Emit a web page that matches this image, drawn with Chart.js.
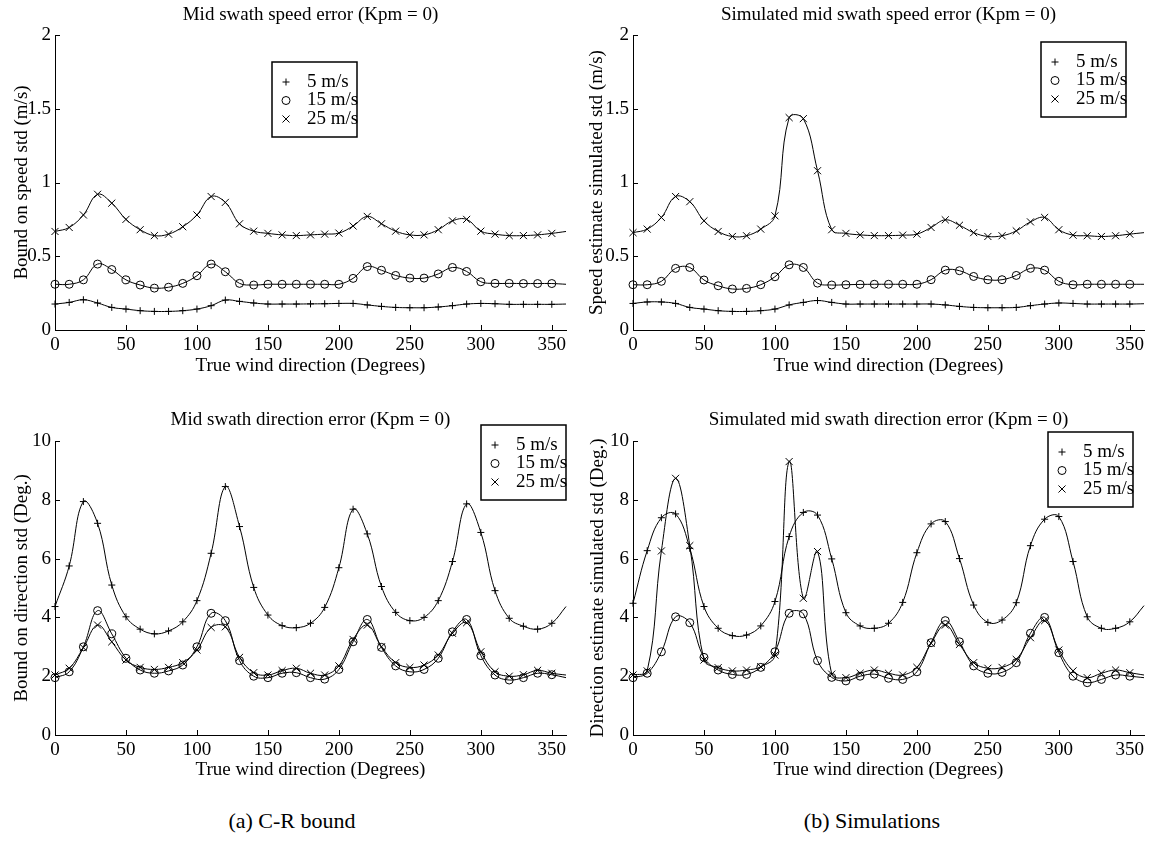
<!DOCTYPE html>
<html>
<head>
<meta charset="utf-8">
<script src="https://cdn.jsdelivr.net/npm/chart.js@4.4.0/dist/chart.umd.min.js"></script>
<style>
    body { margin: 0; background: #fff; width: 1158px; height: 853px; position: relative; overflow: hidden; }
    canvas { position: absolute; }
    .caption { position: absolute; font-family: "Liberation Serif", "Times New Roman", serif; font-size: 22px; transform: translateX(-50%); white-space: nowrap; color: #000; }
</style>
</head>
<body>
<canvas id="speedBound" width="580" height="380" style="left:0;top:0"></canvas>
<canvas id="speedSim" width="578" height="380" style="left:580px;top:0"></canvas>
<canvas id="dirBound" width="580" height="420" style="left:0;top:380px"></canvas>
<canvas id="dirSim" width="578" height="420" style="left:580px;top:380px"></canvas>
<div class="caption" style="left:292px;top:808px">(a) C-R bound</div>
<div class="caption" style="left:872px;top:808px">(b) Simulations</div>

<script>
// wind directions (deg); the last entry is only where the curve ends, no marker
const directions = [0, 10, 20, 30, 40, 50, 60, 70, 80, 90,
    100, 110, 120, 130, 140, 150, 160, 170, 180, 190,
    200, 210, 220, 230, 240, 250, 260, 270, 280, 290,
    300, 310, 320, 330, 340, 350, 360];
const speedLabels = ['5 m/s', '15 m/s', '25 m/s'];

// (a) C-R bound, speed std (m/s)
const boundSpeed5 = [0.176, 0.187, 0.205, 0.183, 0.153, 0.142, 0.131, 0.126, 0.126, 0.131,
    0.142, 0.165, 0.203, 0.194, 0.183, 0.176, 0.176, 0.176, 0.177, 0.178,
    0.18, 0.18, 0.17, 0.16, 0.153, 0.151, 0.151, 0.156, 0.165, 0.176,
    0.18, 0.178, 0.174, 0.174, 0.174, 0.174, 0.176];
const boundSpeed15 = [0.31, 0.31, 0.34, 0.447, 0.41, 0.34, 0.305, 0.284, 0.29, 0.316,
    0.368, 0.447, 0.395, 0.316, 0.305, 0.31, 0.31, 0.31, 0.31, 0.31,
    0.31, 0.35, 0.43, 0.405, 0.37, 0.352, 0.352, 0.38, 0.424, 0.397,
    0.327, 0.316, 0.316, 0.315, 0.315, 0.315, 0.31];
const boundSpeed25 = [0.668, 0.695, 0.78, 0.92, 0.86, 0.75, 0.68, 0.64, 0.65, 0.70,
    0.78, 0.905, 0.865, 0.72, 0.67, 0.655, 0.645, 0.64, 0.645, 0.65,
    0.657, 0.705, 0.77, 0.72, 0.67, 0.645, 0.645, 0.68, 0.74, 0.75,
    0.67, 0.65, 0.64, 0.64, 0.645, 0.655, 0.668];

// (b) simulations, speed std (m/s)
const simSpeed5 = [0.18, 0.19, 0.19, 0.18, 0.153, 0.142, 0.131, 0.126, 0.126, 0.131,
    0.142, 0.17, 0.187, 0.2, 0.187, 0.176, 0.176, 0.176, 0.176, 0.176,
    0.176, 0.176, 0.17, 0.16, 0.153, 0.151, 0.151, 0.153, 0.165, 0.176,
    0.183, 0.18, 0.176, 0.176, 0.176, 0.176, 0.178];
const simSpeed15 = [0.307, 0.307, 0.33, 0.418, 0.424, 0.339, 0.30, 0.278, 0.282, 0.307,
    0.361, 0.442, 0.424, 0.318, 0.305, 0.307, 0.309, 0.31, 0.31, 0.31,
    0.31, 0.341, 0.406, 0.402, 0.363, 0.341, 0.341, 0.37, 0.418, 0.406,
    0.33, 0.307, 0.31, 0.31, 0.31, 0.31, 0.31];
const simSpeed25 = [0.66, 0.684, 0.763, 0.905, 0.87, 0.74, 0.668, 0.634, 0.639, 0.684,
    0.774, 1.44, 1.433, 1.08, 0.68, 0.655, 0.645, 0.64, 0.64, 0.643,
    0.65, 0.695, 0.747, 0.71, 0.66, 0.634, 0.639, 0.672, 0.733, 0.763,
    0.68, 0.643, 0.639, 0.634, 0.639, 0.65, 0.66];

// (a) C-R bound, direction std (deg)
const boundDir5 = [4.37, 5.75, 7.94, 7.2, 5.1, 4.02, 3.6, 3.44, 3.54, 3.85,
    4.57, 6.18, 8.45, 7.09, 5.02, 4.08, 3.72, 3.65, 3.8, 4.34,
    5.69, 7.68, 6.84, 5.05, 4.17, 3.89, 4.0, 4.57, 5.9, 7.86,
    6.89, 4.91, 3.97, 3.7, 3.6, 3.8, 4.37];
const boundDir15 = [1.95, 2.15, 3.0, 4.23, 3.44, 2.61, 2.21, 2.1, 2.18, 2.38,
    3.0, 4.14, 3.89, 2.53, 2.0, 1.95, 2.1, 2.12, 1.95, 1.9,
    2.23, 3.17, 3.93, 2.98, 2.35, 2.15, 2.23, 2.61, 3.51, 3.93,
    2.7, 2.04, 1.87, 1.95, 2.1, 2.05, 1.95];
const boundDir25 = [2.04, 2.27, 2.97, 3.74, 3.17, 2.55, 2.3, 2.23, 2.3, 2.46,
    2.89, 3.66, 3.68, 2.64, 2.12, 2.04, 2.19, 2.27, 2.1, 2.04,
    2.35, 3.25, 3.74, 3.0, 2.46, 2.3, 2.38, 2.72, 3.46, 3.82,
    2.83, 2.15, 2.0, 2.05, 2.2, 2.1, 2.04];

// (b) simulations, direction std (deg)
const simDir5 = [4.48, 6.27, 7.39, 7.52, 6.35, 4.37, 3.63, 3.38, 3.4, 3.71,
    4.54, 6.75, 7.57, 7.48, 5.99, 4.16, 3.71, 3.63, 3.8, 4.51,
    6.2, 7.18, 7.26, 6.0, 4.42, 3.83, 3.91, 4.5, 6.44, 7.34,
    7.43, 5.9, 4.02, 3.63, 3.63, 3.85, 4.4];
const simDir15 = [1.95, 2.1, 2.83, 4.02, 3.82, 2.64, 2.21, 2.06, 2.06, 2.3,
    2.83, 4.14, 4.12, 2.53, 1.96, 1.84, 2.0, 2.07, 1.93, 1.89,
    2.15, 3.14, 3.89, 3.17, 2.35, 2.1, 2.13, 2.46, 3.46, 4.0,
    2.8, 2.0, 1.78, 1.89, 2.04, 2.0, 1.95];
const simDir25 = [2.04, 2.18, 6.26, 8.73, 6.44, 2.55, 2.29, 2.18, 2.21, 2.32,
    2.72, 9.3, 4.65, 6.24, 2.07, 1.95, 2.1, 2.21, 2.1, 2.04,
    2.3, 3.12, 3.74, 3.08, 2.46, 2.27, 2.3, 2.57, 3.31, 3.89,
    2.89, 2.18, 1.95, 2.1, 2.21, 2.12, 2.04];

const FONT = 'Liberation Serif';
Chart.defaults.font.family = FONT;
Chart.defaults.font.size = 19;
Chart.defaults.color = '#000';

// + , o , x like the original plot markers
const markers = [
    { pointStyle: 'cross', radius: 3.5 },
    { pointStyle: 'circle', radius: 4 },
    { pointStyle: 'crossRot', radius: 5 }
];

// short inward tick marks on the left and bottom axes
const inwardTicks = {
    id: 'inwardTicks',
    afterDraw(chart) {
        const ctx = chart.ctx;
        const { x, y } = chart.scales;
        ctx.save();
        ctx.strokeStyle = '#000';
        ctx.lineWidth = 1;
        ctx.beginPath();
        x.ticks.forEach(t => {
            const px = Math.round(x.getPixelForValue(t.value)) + 0.5;
            ctx.moveTo(px, y.bottom);
            ctx.lineTo(px, y.bottom - 5);
        });
        y.ticks.forEach(t => {
            const py = Math.round(y.getPixelForValue(t.value)) + 0.5;
            ctx.moveTo(x.left, py);
            ctx.lineTo(x.left + 5, py);
        });
        ctx.stroke();
        ctx.restore();
    }
};

// boxed legend placed inside the axes
const boxLegend = {
    id: 'boxLegend',
    afterDraw(chart, args, opts) {
        const ctx = chart.ctx;
        ctx.save();
        ctx.fillStyle = '#fff';
        ctx.fillRect(opts.x, opts.y, 85, 75);
        ctx.strokeStyle = '#000';
        ctx.lineWidth = 1.5;
        ctx.strokeRect(opts.x, opts.y, 85, 75);
        chart.data.datasets.forEach((ds, i) => {
            const rowY = opts.y + 20 + i * 18.5;
            ctx.strokeStyle = '#000';
            ctx.fillStyle = 'rgba(0,0,0,0)';
            ctx.lineWidth = 1;
            Chart.helpers.drawPoint(ctx, {
                pointStyle: markers[i].pointStyle, radius: markers[i].radius, rotation: 0, borderWidth: 1
            }, opts.x + 14, rowY);
            ctx.fillStyle = '#000';
            ctx.font = '19px "' + FONT + '"';
            ctx.textAlign = 'left';
            ctx.textBaseline = 'middle';
            ctx.fillText(ds.label, opts.x + 35, rowY);
        });
        ctx.restore();
    }
};

function renderPanel(canvasId, series, cfg) {
    const canvas = document.getElementById(canvasId);
    const last = directions.length - 1;

    const datasets = series.map((values, i) => ({
        label: speedLabels[i],
        data: directions.map((d, k) => ({ x: d, y: values[k] })),
        borderColor: '#000',
        borderWidth: 1,
        tension: 0.4,
        fill: false,
        clip: 10,
        pointStyle: markers[i].pointStyle,
        pointRadius: (c) => c.dataIndex === last ? 0 : markers[i].radius,
        pointBorderColor: '#000',
        pointBackgroundColor: 'rgba(0,0,0,0)',
        pointBorderWidth: 1
    }));

    return new Chart(canvas.getContext('2d'), {
        type: 'line',
        data: { datasets: datasets },
        plugins: [inwardTicks, boxLegend],
        options: {
            responsive: false,
            animation: false,
            events: [],
            layout: { padding: { left: 0, right: cfg.padRight, top: 0, bottom: 0 } },
            plugins: {
                legend: { display: false },
                tooltip: { enabled: false },
                title: {
                    display: true,
                    text: cfg.title,
                    fullSize: false,
                    font: { size: 19, weight: 'normal' },
                    padding: { top: cfg.titleY - 11.4, bottom: cfg.plotTop - cfg.titleY - 11.4 }
                },
                boxLegend: cfg.legend
            },
            scales: {
                x: {
                    type: 'linear',
                    min: 0,
                    max: 360,
                    grid: { display: false, drawTicks: false },
                    border: { display: true, color: '#000', width: 1 },
                    ticks: { stepSize: 50, includeBounds: false, padding: 4, maxRotation: 0 },
                    title: { display: true, text: 'True wind direction (Degrees)', padding: { top: 0, bottom: cfg.xTitlePad } },
                    afterFit: (scale) => { scale.height = cfg.xAxisHeight; }
                },
                y: {
                    min: 0,
                    max: cfg.yMax,
                    grid: { display: false, drawTicks: false },
                    border: { display: true, color: '#000', width: 1 },
                    ticks: { stepSize: cfg.yStep, padding: 4, callback: (v) => String(v) },
                    title: { display: true, text: cfg.yTitle, padding: { top: cfg.yTitlePad, bottom: 0 } },
                    afterFit: (scale) => { scale.width = cfg.yAxisWidth; }
                }
            }
        }
    });
}

renderPanel('speedBound', [boundSpeed5, boundSpeed15, boundSpeed25], {
    title: 'Mid swath speed error (Kpm = 0)',
    yTitle: 'Bound on speed std (m/s)',
    yMax: 2, yStep: 0.5,
    titleY: 15, plotTop: 35,
    yAxisWidth: 55, yTitlePad: 10.6, padRight: 14,
    xAxisHeight: 50, xTitlePad: 2.6,
    legend: { x: 272, y: 62 }
});

renderPanel('speedSim', [simSpeed5, simSpeed15, simSpeed25], {
    title: 'Simulated mid swath speed error (Kpm = 0)',
    yTitle: 'Speed estimate simulated std (m/s)',
    yMax: 2, yStep: 0.5,
    titleY: 15, plotTop: 35,
    yAxisWidth: 53, yTitlePad: 5.6, padRight: 14,
    xAxisHeight: 50, xTitlePad: 2.6,
    legend: { x: 461, y: 42 }
});

renderPanel('dirBound', [boundDir5, boundDir15, boundDir25], {
    title: 'Mid swath direction error (Kpm = 0)',
    yTitle: 'Bound on direction std (Deg.)',
    yMax: 10, yStep: 2,
    titleY: 40, plotTop: 61,
    yAxisWidth: 55, yTitlePad: 10.6, padRight: 14,
    xAxisHeight: 65, xTitlePad: 18.6,
    legend: { x: 481, y: 45 }
});

renderPanel('dirSim', [simDir5, simDir15, simDir25], {
    title: 'Simulated mid swath direction error (Kpm = 0)',
    yTitle: 'Direction estimate simulated std (Deg.)',
    yMax: 10, yStep: 2,
    titleY: 40, plotTop: 61,
    yAxisWidth: 53, yTitlePad: 6.6, padRight: 14,
    xAxisHeight: 65, xTitlePad: 18.6,
    legend: { x: 468, y: 52 }
});
</script>
</body>
</html>
